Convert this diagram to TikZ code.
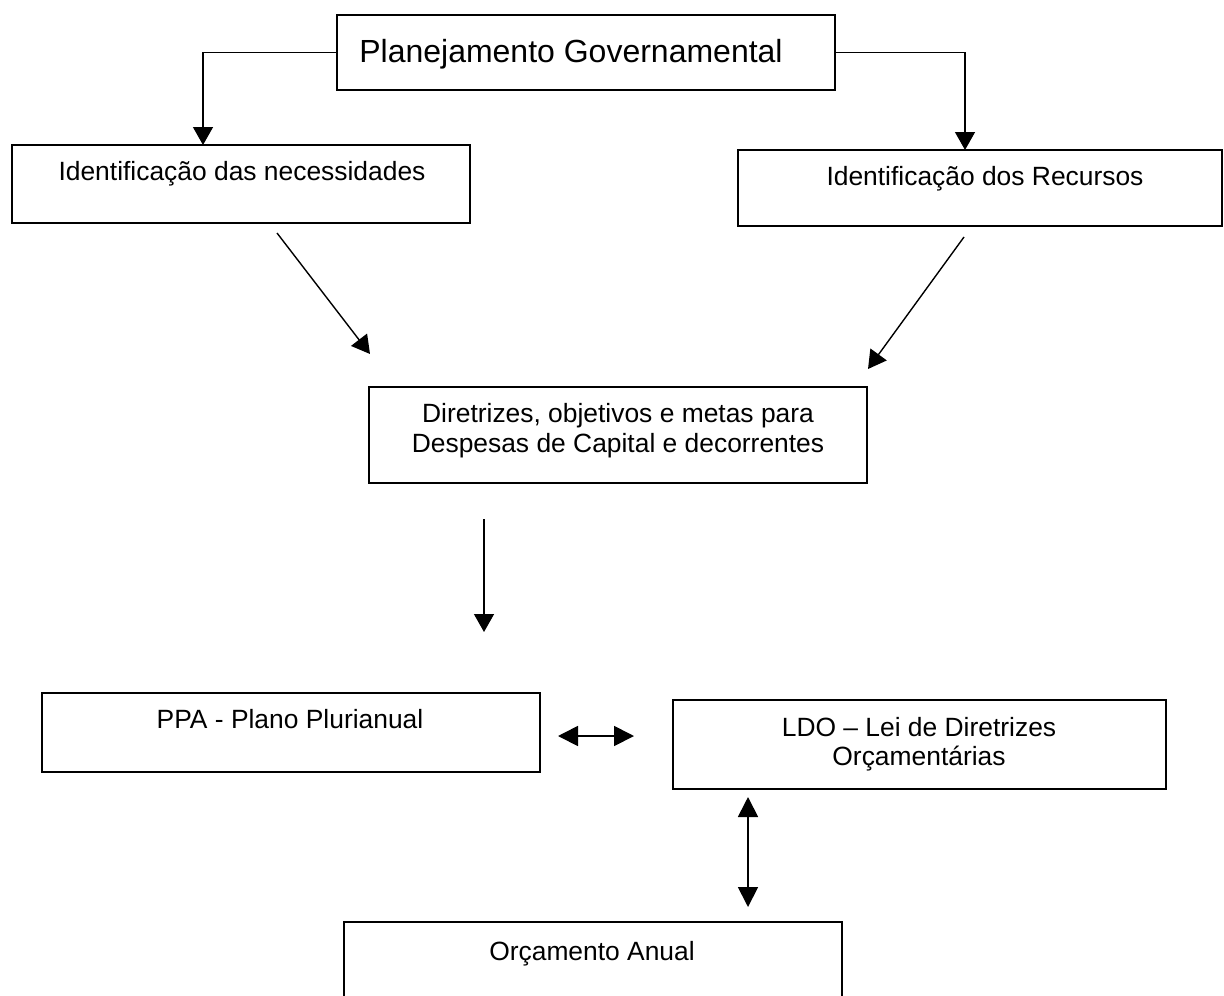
\documentclass[tikz,border=0pt]{standalone}
\usepackage{fontspec}
\setmainfont{Liberation Sans}
\usetikzlibrary{arrows.meta}
\begin{document}
\begin{tikzpicture}[x=0.5pt,y=-0.5pt,
  box/.style={draw=black, line width=0.8pt, inner sep=0pt, outer sep=0pt},
  lbl/.style={font=\fontsize{13.2}{15.8}\selectfont, anchor=base, inner sep=0pt},
  title/.style={font=\fontsize{16}{19}\selectfont, anchor=base, inner sep=0pt},
  arr/.style={-{Triangle[length=9pt,width=10pt]}, line width=0.7pt},
  biarr/.style={{Triangle[length=10pt,width=10pt]}-{Triangle[length=10pt,width=10pt]}, line width=0.9pt}]
\clip (0,0) rectangle (1224,995);
\fill[white] (0,0) rectangle (1224,995);

% boxes
\node[box, minimum width=249pt, minimum height=37.5pt] (P) at (586,52.5) {};
\node[box, minimum width=229pt, minimum height=39pt] (L) at (241,184) {};
\node[box, minimum width=242pt, minimum height=38pt] (R) at (980,188) {};
\node[box, minimum width=249pt, minimum height=48pt] (M) at (618,435) {};
\node[box, minimum width=249pt, minimum height=39.5pt] (A) at (291,732.5) {};
\node[box, minimum width=246.5pt, minimum height=44.5pt] (B) at (919.5,744.5) {};
\node[box, minimum width=249pt, minimum height=44pt] (O) at (593,966) {};

% texts
\node[title] (tP) at (571,63) {Planejamento Governamental};
\node[lbl] (tL) at (242,180) {Identificação das necessidades};
\node[lbl] (tR) at (985,185) {Identificação dos Recursos};
\node[lbl] (tM1) at (618,422) {Diretrizes, objetivos e metas para};
\node[lbl] (tM2) at (618,452) {Despesas de Capital e decorrentes};
\node[lbl] (tA) at (290,728) {PPA - Plano Plurianual};
\node[lbl] (tB1) at (919,736) {LDO – Lei de Diretrizes};
\node[lbl] (tB2) at (919,765) {Orçamentárias};
\node[lbl] (tO) at (592,960) {Orçamento Anual};

% free connector ends
\coordinate (ls) at (277,233);
\coordinate (le) at (370,354);
\coordinate (rs) at (964,237);
\coordinate (re) at (868,369);
\coordinate (ds) at (484,519);
\coordinate (de) at (484,632);
\coordinate (hl) at (558,736);
\coordinate (hr) at (634,736);
\coordinate (vt) at (748,797);
\coordinate (vb) at (748,907);

% connectors
\draw[arr] (P.west) -| ([xshift=-19pt]L.north);
\draw[arr] (P.east) -| ([xshift=-7.5pt]R.north);
\draw[arr] (ls) -- (le);
\draw[arr] (rs) -- (re);
\draw[arr] (ds) -- (de);
\draw[biarr] (hl) -- (hr);
\draw[biarr] (vt) -- (vb);
\end{tikzpicture}
\end{document}
